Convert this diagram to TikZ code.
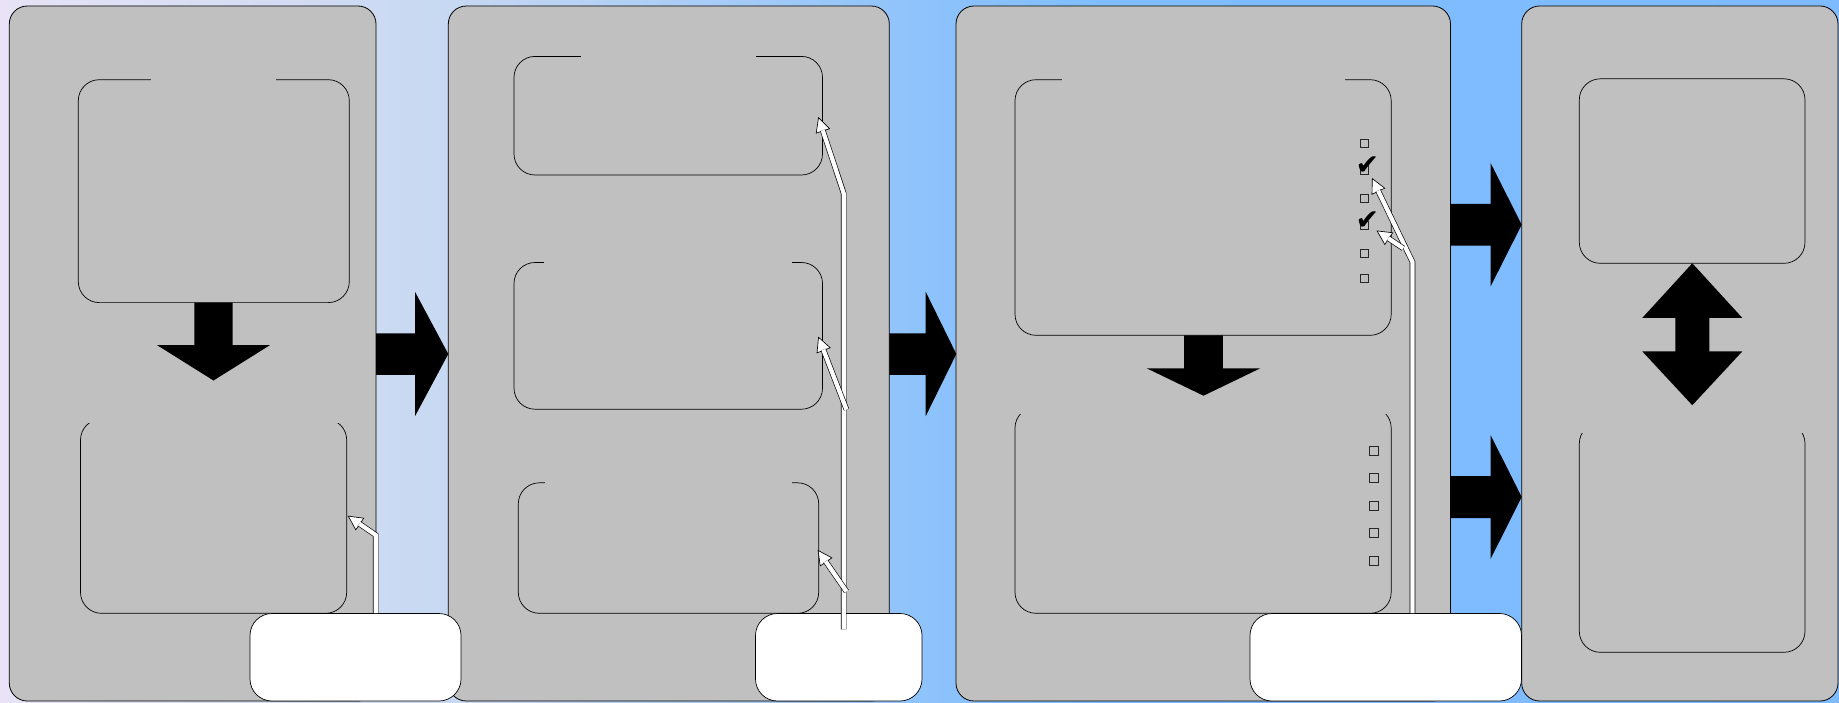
\documentclass[tikz,border=0pt]{standalone}
\usepackage{fontspec}
\newfontfamily\symfont{DejaVu Sans}
\usetikzlibrary{arrows.meta}

\definecolor{panelgray}{HTML}{C0C0C0}
\definecolor{bgleft}{HTML}{E8E3F6}
\definecolor{bgquart}{HTML}{C6D8F2}
\definecolor{bgmid}{HTML}{8EC3FB}
\definecolor{bgright}{HTML}{80BDFF}
\definecolor{bgend}{HTML}{7DBAFF}
\pgfdeclarehorizontalshading{bgshade}{100bp}{color(0bp)=(bgleft); color(25bp)=(bgleft);
  color(37.5bp)=(bgquart); color(50bp)=(bgmid); color(55bp)=(bgright);
  color(75bp)=(bgend); color(100bp)=(bgend)}

\begin{document}
\begin{tikzpicture}[
  x=0.2mm, y=-0.2mm,
  panel/.style={rectangle, draw=black, line width=0.16mm, fill=panelgray,
                rounded corners=3.6mm, minimum height=139mm, inner sep=0pt},
  inbox/.style={rectangle, draw=black, line width=0.14mm, fill=panelgray,
                rounded corners=4.2mm, inner sep=0pt},
  titlegap/.style={rectangle, fill=panelgray, inner sep=0pt},
  notebox/.style={rectangle, draw=black, line width=0.14mm, fill=white,
                  rounded corners=4.4mm, minimum height=17.5mm, inner sep=0pt},
  chkbox/.style={rectangle, draw=black!85, line width=0.14mm, inner sep=0pt},
  checkmark/.style={font=\symfont\fontsize{16}{16}\selectfont, inner sep=0pt},
  wire/.style={draw=black, line width=0.13mm, double=white, double distance=0.85mm,
               shorten >=2.8mm},
  wirehead/.style={draw=black, line width=0.13mm,
                   -{Triangle[length=3mm, width=3mm, fill=white]}}
]
\useasboundingbox (0,0) rectangle (1839,702);
\shade[shading=bgshade] (0,0) rectangle (1839,702);

% ---- four stage panels ----
\node[panel, minimum width=73.34mm] (p1) at (192.65,353.5) {};
\node[panel, minimum width=88.2mm]  (p2) at (668.8,353.5) {};
\node[panel, minimum width=98.9mm]  (p3) at (1203.25,353.5) {};
\node[panel, minimum width=63.26mm] (p4) at (1679.85,353.5) {};

% ---- inner boxes ----
\foreach \name/\xc/\yc/\w/\h in {b1a/213.8/191.15/54.2/44.58, b1b/213.6/516.15/53.24/38.86,
    b2a/668.25/115.7/61.7/23.72, b2b/668.25/335.85/61.7/29.34, b2c/668.5/548.05/60.08/26.1,
    b3a/1203.1/207.5/75.24/51.12, b3b/1203.1/510.15/75.24/41.26,
    b4a/1692.15/171.05/45.14/36.9, b4b/1692.15/537.45/45.14/45.94}
  \node[inbox, minimum width=\w mm, minimum height=\h mm] (\name) at (\xc,\yc) {};

% ---- gaps left by the box titles ----
\foreach \name/\w/\h in {b1a/25/1.2, b1b/56/1.6, b2a/35.06/1.2, b2b/49.54/1.2,
    b2c/49.34/1.2, b3a/56.6/1.2, b3b/77/2.8, b4b/47/4.2}
  \node[titlegap, minimum width=\w mm, minimum height=\h mm] (t\name) at (\name.north) {};

% ---- check boxes ----
\foreach \y [count=\i] in {143.3,170,198.3,225.5,253.5,278.4}
  \node[chkbox, minimum size=1.7mm] (ka\i) at (1364.5,\y) {};
\foreach \y [count=\i] in {450.5,478,505.7,533,560.4}
  \node[chkbox, minimum size=1.8mm] (kb\i) at (1373.6,\y) {};
\foreach \i in {2,4}
  \node[checkmark] (ck\i) at ([shift={(0.6mm,0.9mm)}]ka\i.center) {✔};

% ---- block arrows between panels ----
\foreach \xa/\xb/\xc/\yc/\s/\h in {376/415/448.3/354/20.75/62.2, 889.3/925.7/956.3/354/20.75/62.2,
    1450.5/1490.7/1521.7/224.7/20.8/61.5, 1450.5/1490.7/1521.7/497/21/61.75}
  \fill (\xa,\yc-\s) -- (\xb,\yc-\s) -- (\xb,\yc-\h) -- (\xc,\yc)
        -- (\xb,\yc+\h) -- (\xb,\yc+\s) -- (\xa,\yc+\s) -- cycle;
\foreach \xc/\ya/\yb/\yt/\s/\h in {213.5/302.6/345/380.5/19.2/56.65, 1203.5/335.3/368.4/395.7/19.4/56.6}
  \fill (\xc-\s,\ya) -- (\xc-\s,\yb) -- (\xc-\h,\yb) -- (\xc,\yt)
        -- (\xc+\h,\yb) -- (\xc+\s,\yb) -- (\xc+\s,\ya) -- cycle;
\fill (1692.3,263.3) -- (1742.3,317.9) -- (1709.3,317.9) -- (1709.3,351.4) -- (1742.3,351.4)
  -- (1692.3,405.2) -- (1642.3,351.4) -- (1675.3,351.4) -- (1675.3,317.9) -- (1642.3,317.9) -- cycle;

% ---- notes at the bottom ----
\node[notebox, minimum width=42.2mm] (c1) at (355.5,657.25) {};
\node[notebox, minimum width=33.3mm] (c2) at (838.75,657.25) {};
\node[notebox, minimum width=54.3mm] (c3) at (1385.75,657.25) {};

% ---- pointers from the notes ----
\coordinate (k1) at (375.7,535);
\coordinate (e1) at (347.7,515.7);
\draw[wirehead] (k1) -- (e1);
\draw[wire] (c1.north -| k1) -- (k1) -- (e1);

\coordinate (r2) at (843.7,629.3);
\coordinate (k2) at (843.7,193.4);
\coordinate (e2a) at (818.3,117);
\coordinate (s2b) at (846.5,409.6);
\coordinate (e2b) at (818.3,336.6);
\coordinate (s2c) at (846.5,591.5);
\coordinate (e2c) at (817.7,549.8);
\draw[wirehead] (k2) -- (e2a);
\draw[wirehead] (s2b) -- (e2b);
\draw[wirehead] (s2c) -- (e2c);
\draw[wire] (r2) -- (k2) -- (e2a);
\draw[wire] (s2b) -- (e2b);
\draw[wire] (s2c) -- (e2c);

\coordinate (k3) at (1412.5,262);
\coordinate (e3a) at (1372,178);
\coordinate (s3b) at (1403.3,248.3);
\coordinate (e3b) at (1376.5,230.5);
\draw[wirehead] (k3) -- (e3a);
\draw[wirehead] (s3b) -- (e3b);
\draw[wire] (c3.north -| k3) -- (k3) -- (e3a);
\draw[wire] (s3b) -- (e3b);

\end{tikzpicture}
\end{document}
